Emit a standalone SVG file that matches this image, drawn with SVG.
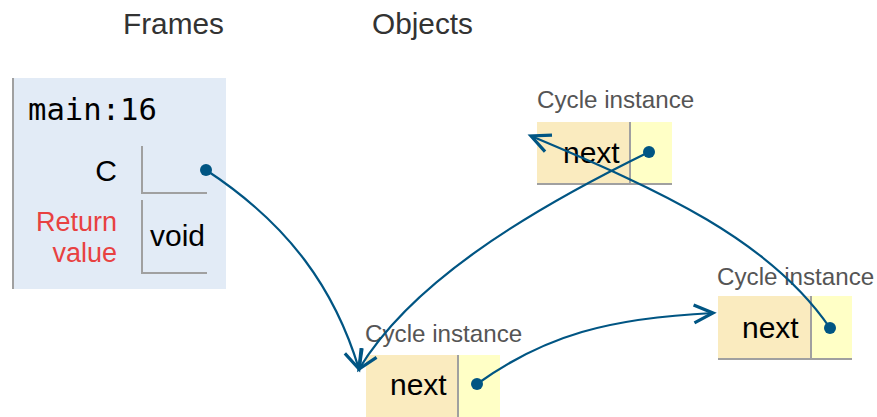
<svg xmlns="http://www.w3.org/2000/svg" width="877" height="417" viewBox="0 0 877 417">
<style>
text{font-family:"Liberation Sans",Arial,sans-serif;fill:#000}
.title{font-size:29.8px;fill:#333}
.lbl{font-size:24.2px;fill:#555}
.key{fill:#faebbf}
.val{fill:#ffffc6}
.sep{stroke:#a0a0a0;stroke-width:2;fill:none}
.conn{stroke:#005583;stroke-width:2.2;fill:none;marker-end:url(#ah)}
.dot{fill:#005583}
.field{font-size:30px}
</style>
<defs>
<marker id="ah" viewBox="0 0 26 26" refX="22" refY="13" markerWidth="26" markerHeight="26" markerUnits="userSpaceOnUse" orient="auto">
<path d="M3,4 L22,13 L3,22" fill="none" stroke="#005583" stroke-width="3.2" stroke-linejoin="miter"/>
</marker>
</defs>
<rect width="877" height="417" fill="#fff"/>
<text class="title" x="123" y="34">Frames</text>
<text class="title" x="372" y="34">Objects</text>

<g id="frame-main">
<rect x="12" y="78" width="214" height="211" fill="#e2ebf6"/>
<line x1="13" y1="78" x2="13" y2="289" stroke="#a0a0a0" stroke-width="2"/>
<text x="28" y="120" style="font-family:'DejaVu Sans Mono','Liberation Mono',monospace;font-size:30.6px">main:16</text>
<text x="117" y="181" text-anchor="end" style="font-size:30px">C</text>
<path class="sep" d="M142,146 V193 H207"/>
<text x="117" y="231" text-anchor="end" style="font-size:27px;fill:#e84141">Return</text>
<text x="117" y="262" text-anchor="end" style="font-size:27px;fill:#e84141">value</text>
<path class="sep" d="M142,200 V273 H207"/>
<text x="150" y="246" style="font-size:30px">void</text>
</g>

<g id="obj-top">
<text class="lbl" x="537" y="108">Cycle instance</text>
<rect class="key" x="537" y="122" width="92" height="61"/>
<rect class="val" x="631" y="122" width="41" height="61"/>
<line class="sep" x1="630" y1="122" x2="630" y2="184"/>
<line class="sep" x1="537" y1="184" x2="672" y2="184"/>
<text class="field" x="563" y="163">next</text>
</g>

<g id="obj-right">
<text class="lbl" x="717" y="285">Cycle instance</text>
<rect class="key" x="718" y="296" width="92" height="62"/>
<rect class="val" x="812" y="296" width="40" height="62"/>
<line class="sep" x1="811" y1="296" x2="811" y2="359"/>
<line class="sep" x1="718" y1="359" x2="852" y2="359"/>
<text class="field" x="742" y="338">next</text>
</g>

<g id="obj-bottom">
<text class="lbl" x="365" y="342">Cycle instance</text>
<rect class="key" x="366" y="355" width="91" height="62"/>
<rect class="val" x="459" y="355" width="41" height="62"/>
<line class="sep" x1="458" y1="355" x2="458" y2="417"/>
<text class="field" x="390" y="395">next</text>
</g>

<g id="connectors">
<path class="conn" d="M206,170 C290,225 335,290 359,369"/>
<path class="conn" d="M649,152 C520,215 410,285 359,369"/>
<path class="conn" d="M477,384 C545,335 610,318 713,313"/>
<path class="conn" d="M830,328 C770,240 660,190 531,136"/>
<circle class="dot" cx="206" cy="170" r="6"/>
<circle class="dot" cx="649" cy="152" r="6"/>
<circle class="dot" cx="477" cy="384" r="6"/>
<circle class="dot" cx="830" cy="328" r="6"/>
</g>
</svg>
